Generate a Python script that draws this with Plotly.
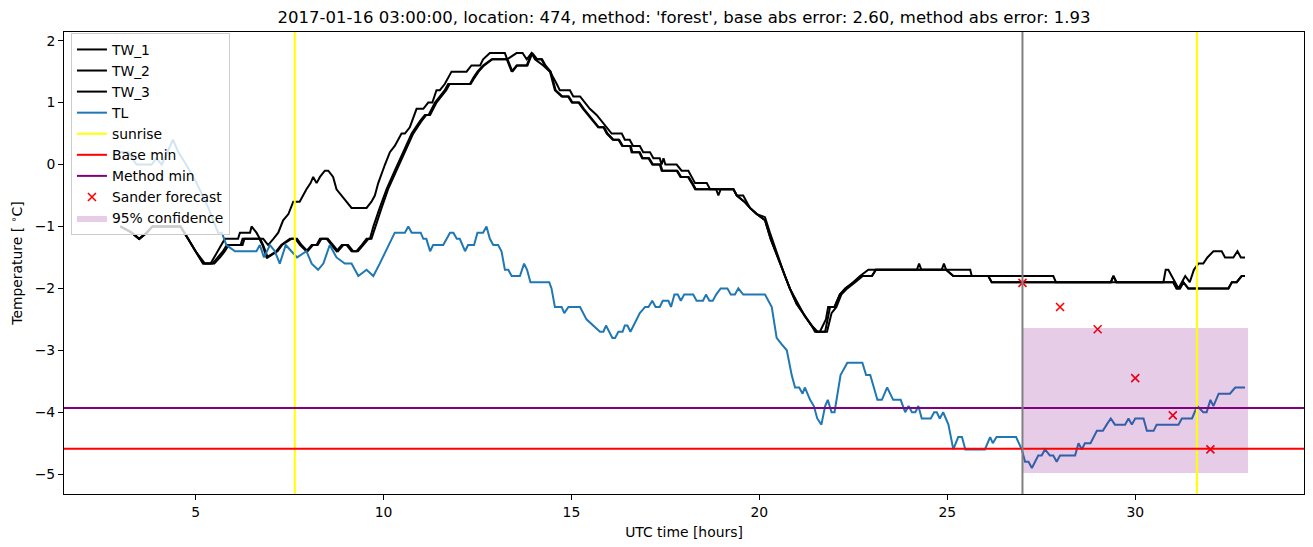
import plotly.graph_objects as go

# ---------------- data ----------------
tw1_t = [3.0, 3.3, 3.5, 3.7, 3.85, 4.3, 4.6, 4.8, 5.0, 5.2, 5.4, 5.6, 5.78, 6.13, 6.18, 6.45, 6.49, 6.62,
         6.71, 6.80, 6.93, 7.07, 7.20, 7.33, 7.47, 7.60, 7.77, 7.95, 8.06, 8.13, 8.22, 8.31, 8.44, 8.53,
         8.66, 8.75, 8.89, 9.02, 9.15, 9.55, 9.68, 9.77, 9.86, 10.04, 10.17, 10.30, 10.48, 10.57, 10.70,
         10.88, 11.06, 11.19, 11.30, 11.41, 11.50, 11.63, 11.81, 12.21, 12.34, 12.57, 12.65, 12.83, 13.23,
         13.29, 13.54, 13.70, 13.81, 13.94, 14.03, 14.25, 14.43, 14.61, 14.69, 14.96, 15.05, 15.23, 15.36,
         15.49, 15.67, 15.80, 15.94, 16.07, 16.34, 16.42, 16.55, 16.64, 16.82, 16.91, 17.09, 17.18, 17.35,
         17.40, 17.45, 17.50, 17.80, 17.93, 18.11, 18.20, 18.29, 18.60, 18.69, 19.31, 19.40, 19.57, 19.75,
         19.93, 20.15, 20.28, 20.50, 20.68, 20.81, 20.99, 21.21, 21.39, 21.48, 21.61, 21.77, 21.83, 22.00,
         22.14, 22.28, 22.50, 22.68, 22.90, 24.19, 24.25, 24.31, 24.85, 24.91, 24.97, 25.16, 26.09, 26.18,
         29.35, 29.42, 29.50, 30.75, 30.81, 30.88, 30.97, 31.06, 31.15, 31.24, 31.33, 31.45, 31.56, 31.68,
         31.81, 31.92, 32.08, 32.30, 32.39, 32.61, 32.72, 32.81, 32.92]
tw1_v = [-1.0, -1.1, -1.2, -1.1, -1.0, -1.0, -1.0, -1.2, -1.4, -1.6, -1.6, -1.4, -1.2, -1.2, -1.1, -1.1, -1.0, -1.1,
         -1.2, -1.2, -1.3, -1.2, -1.1, -0.9, -0.8, -0.6, -0.6, -0.4, -0.3, -0.2, -0.3, -0.2, -0.1, -0.1,
         -0.2, -0.4, -0.5, -0.6, -0.7, -0.7, -0.6, -0.5, -0.3, 0.0, 0.2, 0.3, 0.5, 0.5, 0.6,
         0.9, 0.9, 1.0, 1.0, 1.2, 1.2, 1.3, 1.5, 1.5, 1.6, 1.6, 1.7, 1.8, 1.8,
         1.7, 1.8, 1.8, 1.7, 1.8, 1.7, 1.6, 1.5, 1.3, 1.2, 1.2, 1.1, 1.1, 1.0,
         0.9, 0.8, 0.7, 0.6, 0.5, 0.5, 0.4, 0.4, 0.3, 0.3, 0.2, 0.2, 0.1, 0.1,
         0.0, 0.1, 0.0, 0.0, -0.1, -0.1, -0.2, -0.3, -0.3, -0.4, -0.4, -0.5, -0.5, -0.7,
         -0.8, -0.85, -1.1, -1.5, -1.8, -2.0, -2.2, -2.45, -2.6, -2.7, -2.7, -2.5, -2.3, -2.3,
         -2.1, -2.0, -1.9, -1.8, -1.7, -1.7, -1.6, -1.7, -1.7, -1.6, -1.7, -1.8, -1.8, -1.9,
         -1.9, -1.8, -1.9, -1.9, -1.7, -1.7, -1.8, -1.9, -2.0, -1.9, -1.8, -1.9, -1.7, -1.6,
         -1.6, -1.5, -1.4, -1.4, -1.5, -1.5, -1.4, -1.5, -1.5]

tw2_t = [3.0, 3.3, 3.5, 3.7, 3.85, 4.3, 4.6, 4.8, 5.0, 5.2, 5.45, 5.6, 5.73, 5.83, 6.2, 6.25, 6.7, 6.78, 6.89,
         7.15, 7.28, 7.51, 7.66, 7.78, 7.95, 8.09, 8.22, 8.31, 8.49, 8.62, 8.75, 8.89, 9.02, 9.15, 9.28,
         9.42, 9.55, 9.64, 9.73, 9.90, 10.08, 10.30, 10.52, 10.75, 10.97, 11.10, 11.20, 11.37, 11.50, 11.63,
         11.72, 12.30, 12.39, 12.50, 12.65, 12.88, 13.28, 13.41, 13.54, 13.81, 13.94, 14.07, 14.20, 14.29,
         14.43, 14.56, 14.74, 14.91, 15.01, 15.19, 15.31, 15.45, 15.71, 15.85, 15.94, 16.10, 16.25, 16.35,
         16.56, 16.60, 16.80, 16.88, 17.05, 17.15, 17.35, 17.40, 17.80, 17.90, 18.10, 18.20, 18.29, 18.85,
         18.91, 18.97, 19.31, 19.40, 19.60, 19.75, 19.93, 20.15, 20.30, 20.46, 20.64, 20.81, 20.99, 21.21,
         21.39, 21.52, 21.75, 21.88, 22.00, 22.14, 22.30, 22.50, 22.70, 22.99, 23.10, 25.61, 25.65, 27.82,
         27.89, 29.35, 29.42, 29.50, 31.01, 31.10, 31.19, 31.28, 31.41, 32.48, 32.57, 32.70, 32.83, 32.92]
tw2_v = [-1.0, -1.1, -1.2, -1.1, -1.0, -1.0, -1.0, -1.2, -1.4, -1.6, -1.6, -1.5, -1.4, -1.3, -1.3, -1.2, -1.2, -1.3, -1.5,
         -1.4, -1.3, -1.2, -1.2, -1.3, -1.4, -1.3, -1.3, -1.2, -1.2, -1.3, -1.4, -1.3, -1.3, -1.4, -1.4,
         -1.3, -1.2, -1.2, -1.0, -0.7, -0.4, -0.1, 0.2, 0.5, 0.7, 0.8, 0.8, 1.0, 1.1, 1.2,
         1.3, 1.3, 1.4, 1.5, 1.6, 1.7, 1.7, 1.5, 1.6, 1.6, 1.8, 1.7, 1.7, 1.6,
         1.5, 1.2, 1.1, 1.1, 1.0, 1.0, 0.9, 0.8, 0.6, 0.6, 0.5, 0.4, 0.4, 0.3,
         0.3, 0.2, 0.2, 0.1, 0.1, 0.0, 0.0, -0.1, -0.1, -0.2, -0.2, -0.3, -0.4, -0.4,
         -0.5, -0.4, -0.4, -0.5, -0.6, -0.7, -0.8, -0.9, -1.2, -1.45, -1.75, -2.0, -2.25, -2.45,
         -2.6, -2.7, -2.7, -2.3, -2.3, -2.1, -2.0, -1.9, -1.8, -1.8, -1.7, -1.7, -1.8, -1.8,
         -1.9, -1.9, -1.8, -1.9, -1.9, -2.0, -2.0, -1.9, -2.0, -2.0, -1.9, -1.9, -1.8, -1.8]

tw3_t = [3.0, 3.3, 3.5, 3.7, 3.85, 4.3, 4.6, 4.8, 5.0, 5.25, 5.5, 5.65, 5.78, 5.88, 6.25, 6.3, 6.72, 6.8, 6.92,
         7.18, 7.3, 7.55, 7.7, 7.82, 7.98, 8.12, 8.25, 8.35, 8.52, 8.66, 8.79, 8.93, 9.06, 9.19, 9.32,
         9.46, 9.6, 9.68, 9.78, 9.95, 10.12, 10.34, 10.56, 10.79, 11.01, 11.14, 11.24, 11.41, 11.54, 11.67,
         11.76, 12.32, 12.42, 12.53, 12.68, 12.9, 13.3, 13.43, 13.56, 13.83, 13.96, 14.09, 14.22, 14.31,
         14.45, 14.58, 14.76, 14.93, 15.03, 15.21, 15.33, 15.47, 15.73, 15.87, 15.96, 16.12, 16.27, 16.37,
         16.58, 16.62, 16.82, 16.9, 17.07, 17.17, 17.37, 17.42, 17.82, 17.92, 18.12, 18.22, 18.31, 19.31,
         19.4, 19.6, 19.75, 19.93, 20.15, 20.3, 20.46, 20.64, 20.81, 20.99, 21.21, 21.39, 21.55, 21.8,
         21.92, 22.05, 22.18, 22.34, 22.55, 22.75, 23.0, 23.1, 24.97, 25.16, 26.09, 26.18, 31.01, 31.1,
         31.19, 31.28, 31.41, 32.48, 32.57, 32.7, 32.83, 32.92]
tw3_v = [-1.0, -1.1, -1.2, -1.1, -1.0, -1.0, -1.0, -1.2, -1.4, -1.6, -1.6, -1.5, -1.4, -1.3, -1.3, -1.2, -1.2, -1.3, -1.5,
         -1.4, -1.3, -1.2, -1.2, -1.3, -1.4, -1.3, -1.3, -1.2, -1.2, -1.3, -1.4, -1.3, -1.3, -1.4, -1.4,
         -1.3, -1.2, -1.2, -1.0, -0.7, -0.4, -0.1, 0.2, 0.5, 0.7, 0.8, 0.8, 1.0, 1.1, 1.2,
         1.3, 1.3, 1.4, 1.5, 1.6, 1.7, 1.7, 1.5, 1.6, 1.6, 1.8, 1.7, 1.7, 1.6,
         1.5, 1.2, 1.1, 1.1, 1.0, 1.0, 0.9, 0.8, 0.6, 0.6, 0.5, 0.4, 0.4, 0.3,
         0.3, 0.2, 0.2, 0.1, 0.1, 0.0, 0.0, -0.1, -0.1, -0.2, -0.2, -0.3, -0.4, -0.4,
         -0.5, -0.6, -0.7, -0.8, -0.9, -1.2, -1.45, -1.75, -2.0, -2.25, -2.45, -2.6, -2.7, -2.7,
         -2.4, -2.3, -2.1, -2.0, -1.9, -1.8, -1.8, -1.7, -1.7, -1.8, -1.8, -1.9, -1.9, -2.0,
         -2.0, -1.9, -2.0, -2.0, -1.9, -1.9, -1.8, -1.8]

tl_t = [3.0, 3.21, 3.43, 3.83, 3.96, 4.10, 4.40, 4.54, 4.75, 5.03, 5.34, 5.47, 5.60, 5.70, 5.82, 6.05, 6.62,
        6.71, 6.82, 6.98, 7.11, 7.24, 7.40, 7.55, 7.70, 7.95, 8.09, 8.26, 8.40, 8.57, 8.75, 8.97, 9.15,
        9.33, 9.55, 9.73, 9.90, 10.30, 10.57, 10.66, 10.75, 10.99, 11.06, 11.14, 11.24, 11.32, 11.59,
        11.77, 11.86, 11.95, 12.03, 12.17, 12.25, 12.41, 12.50, 12.65, 12.74, 12.83, 12.92, 13.05, 13.14,
        13.23, 13.32, 13.41, 13.63, 13.74, 13.82, 13.91, 14.41, 14.47, 14.56, 14.74, 14.81, 14.92, 15.23,
        15.40, 15.58, 15.76, 15.85, 15.92, 16.09, 16.16, 16.25, 16.36, 16.42, 16.49, 16.57, 16.82, 16.96,
        17.05, 17.15, 17.24, 17.35, 17.43, 17.58, 17.65, 17.74, 17.83, 17.91, 18.00, 18.24, 18.33, 18.50,
        18.58, 18.67, 18.76, 18.85, 18.97, 19.15, 19.24, 19.35, 19.44, 19.57, 20.15, 20.33, 20.46, 20.59,
        20.73, 20.86, 20.95, 21.06, 21.15, 21.21, 21.35, 21.45, 21.54, 21.65, 21.75, 21.82, 21.92, 22.00,
        22.16, 22.34, 22.74, 22.84, 22.95, 23.14, 23.26, 23.40, 23.56, 23.76, 23.88, 23.97, 24.06, 24.15,
        24.23, 24.32, 24.56, 24.65, 24.72, 24.80, 24.89, 25.03, 25.16, 25.29, 25.39, 25.48, 26.00, 26.14,
        26.21, 26.31, 26.83, 26.98, 27.07, 27.16, 27.25, 27.42, 27.51, 27.60, 27.73, 27.82, 27.91, 28.00,
        28.40, 28.49, 28.58, 28.66, 28.81, 28.98, 29.14, 29.24, 29.35, 29.46, 29.73, 29.82, 29.91, 30.00,
        30.22, 30.31, 30.49, 30.57, 31.15, 31.24, 31.51, 31.65, 31.81, 31.90, 32.00, 32.08, 32.22, 32.52,
        32.66, 32.92]
tl_v = [0.2, 0.2, 0.0, 0.0, 0.1, 0.0, 0.4, 0.2, 0.0, -0.3, -0.7, -0.9, -1.1, -1.1, -1.3, -1.4, -1.4,
        -1.3, -1.5, -1.3, -1.4, -1.6, -1.3, -1.4, -1.5, -1.4, -1.6, -1.7, -1.6, -1.3, -1.5, -1.6, -1.6,
        -1.8, -1.7, -1.8, -1.6, -1.1, -1.1, -1.0, -1.1, -1.1, -1.2, -1.2, -1.4, -1.3, -1.3,
        -1.1, -1.1, -1.2, -1.2, -1.4, -1.3, -1.3, -1.1, -1.1, -1.0, -1.2, -1.3, -1.3, -1.4,
        -1.7, -1.7, -1.8, -1.8, -1.6, -1.7, -1.9, -1.9, -2.0, -2.3, -2.3, -2.4, -2.3, -2.3,
        -2.5, -2.6, -2.7, -2.7, -2.6, -2.8, -2.8, -2.7, -2.7, -2.6, -2.6, -2.7, -2.4, -2.3,
        -2.3, -2.2, -2.3, -2.3, -2.2, -2.2, -2.3, -2.1, -2.1, -2.2, -2.1, -2.1, -2.2, -2.2,
        -2.1, -2.2, -2.2, -2.1, -2.0, -2.0, -2.1, -2.1, -2.0, -2.1, -2.1, -2.3, -2.8, -2.9,
        -3.0, -3.4, -3.6, -3.6, -3.7, -3.6, -3.8, -3.9, -4.1, -4.2, -3.9, -3.8, -4.0, -4.0,
        -3.4, -3.2, -3.2, -3.4, -3.4, -3.8, -3.8, -3.6, -3.8, -3.8, -4.0, -3.9, -4.0, -4.0,
        -3.9, -4.1, -4.1, -4.0, -4.0, -4.1, -4.0, -4.2, -4.6, -4.4, -4.4, -4.6, -4.6, -4.4,
        -4.5, -4.4, -4.4, -4.6, -4.8, -4.8, -4.9, -4.7, -4.7, -4.6, -4.7, -4.7, -4.8, -4.7,
        -4.7, -4.5, -4.6, -4.5, -4.5, -4.3, -4.3, -4.2, -4.1, -4.2, -4.2, -4.1, -4.2, -4.1,
        -4.1, -4.3, -4.3, -4.2, -4.2, -4.1, -4.1, -3.9, -4.0, -4.0, -3.8, -3.9, -3.7, -3.7,
        -3.6, -3.6]

sunrise_times = [7.64, 31.64]
forecast_time = 27.0
forecast_end = 33.0
base_min = -4.59
method_min = -3.93
sander_t = [27, 28, 29, 30, 31, 32]
sander_v = [-1.91, -2.30, -2.66, -3.45, -4.05, -4.60]
conf_low = -4.98
conf_high = -2.64

x_range = [1.50, 34.49]
y_range = [-5.32, 2.14]
x_ticks = [5, 10, 15, 20, 25, 30]
y_ticks = [-5, -4, -3, -2, -1, 0, 1, 2]

title_text = ("2017-01-16 03:00:00, location: 474, method: 'forest', "
              "base abs error: 2.60, method abs error: 1.93")

# ---------------- figure ----------------
FONT = "DejaVu Sans, Verdana, sans-serif"
fig = go.Figure()

for name, t, v in [("TW_1", tw1_t, tw1_v), ("TW_2", tw2_t, tw2_v), ("TW_3", tw3_t, tw3_v)]:
    fig.add_trace(go.Scatter(x=t, y=v, mode="lines", name=name,
                             line=dict(color="black", width=2)))
fig.add_trace(go.Scatter(x=tl_t, y=tl_v, mode="lines", name="TL",
                         line=dict(color="#1f77b4", width=2)))

# legend-only entries for reference lines (lines themselves drawn as shapes)
fig.add_trace(go.Scatter(x=[None], y=[None], mode="lines", name="sunrise",
                         line=dict(color="yellow", width=2)))
fig.add_trace(go.Scatter(x=[None], y=[None], mode="lines", name="Base min",
                         line=dict(color="red", width=2)))
fig.add_trace(go.Scatter(x=[None], y=[None], mode="lines", name="Method min",
                         line=dict(color="purple", width=2)))

fig.add_trace(go.Scatter(x=sander_t, y=sander_v, mode="markers", name="Sander forecast",
                         marker=dict(symbol="x-thin", size=8, color="red",
                                     line=dict(color="red", width=1.6))))

fig.add_trace(go.Scatter(
    x=[forecast_time, forecast_end, forecast_end, forecast_time, forecast_time],
    y=[conf_low, conf_low, conf_high, conf_high, conf_low],
    mode="lines", fill="toself", fillcolor="rgba(128,0,128,0.2)",
    line=dict(width=0, color="rgba(128,0,128,0)"), name="95% confidence",
    hoverinfo="skip"))

shapes = []
for s in sunrise_times:
    shapes.append(dict(type="line", xref="x", yref="paper", x0=s, x1=s, y0=0, y1=1,
                       line=dict(color="yellow", width=2), layer="above"))
shapes.append(dict(type="line", xref="paper", yref="y", x0=0, x1=1, y0=base_min, y1=base_min,
                   line=dict(color="red", width=2), layer="above"))
shapes.append(dict(type="line", xref="paper", yref="y", x0=0, x1=1, y0=method_min, y1=method_min,
                   line=dict(color="purple", width=2), layer="above"))
shapes.append(dict(type="line", xref="x", yref="paper", x0=forecast_time, x1=forecast_time,
                   y0=0, y1=1, line=dict(color="gray", width=2), layer="above"))

fig.update_layout(
    width=1313, height=547,
    margin=dict(l=64, r=9, t=32, b=53),
    paper_bgcolor="white", plot_bgcolor="white",
    font=dict(family=FONT, size=13.9, color="black"),
    title=dict(text=title_text, x=0.5, xref="paper", y=1 - 17 / 547, yref="container",
               xanchor="center", yanchor="middle",
               font=dict(family=FONT, size=16.5, color="black")),
    shapes=shapes,
    showlegend=True,
    legend=dict(x=0.0056, y=0.998, xanchor="left", yanchor="top",
                bgcolor="rgba(255,255,255,0.8)", bordercolor="#cccccc", borderwidth=1,
                font=dict(family=FONT, size=13.9, color="black"),
                itemwidth=30, tracegroupgap=0),
)
fig.update_xaxes(range=x_range, tickvals=x_ticks, showgrid=False, zeroline=False,
                 showline=True, linecolor="black", linewidth=1, mirror=True,
                 ticks="outside", ticklen=5, tickwidth=1, tickcolor="black",
                 title=dict(text="UTC time [hours]", font=dict(family=FONT, size=13.9), standoff=8))
fig.update_yaxes(range=y_range, tickvals=y_ticks, showgrid=False, zeroline=False,
                 showline=True, linecolor="black", linewidth=1, mirror=True,
                 ticks="outside", ticklen=5, tickwidth=1, tickcolor="black",
                 title=dict(text="Temperature [ <sup>∘</sup>C]", font=dict(family=FONT, size=13.9),
                            standoff=8))

fig.write_html("out.html")
